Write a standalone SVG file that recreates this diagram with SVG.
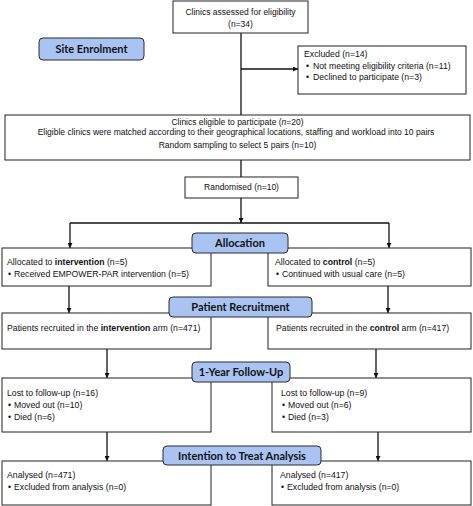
<svg xmlns="http://www.w3.org/2000/svg" width="473" height="506" viewBox="0 0 473 506">
<defs>
<style>
.box{fill:#fff;stroke:#222;stroke-width:1}
.lbl{fill:#a9c4f2;stroke:#2a2a2a;stroke-width:1}
.t{font-family:"Liberation Sans",Arial,sans-serif;font-size:8.7px;fill:#111}
.s{font-size:8.5px}
.c{text-anchor:middle}
.h{font-family:Lato,"Liberation Sans",sans-serif;font-size:11px;font-weight:bold;fill:#111;text-anchor:middle}
.b{font-weight:bold}
.ln{stroke:#111;stroke-width:1.3;fill:none}
</style>
<marker id="ar" viewBox="0 0 10 10" refX="10" refY="5" markerWidth="5" markerHeight="5" orient="auto" markerUnits="userSpaceOnUse">
<path d="M0,0 L10,5 L0,10 z" fill="#111"/>
</marker>
</defs>
<rect width="473" height="506" fill="#fff"/>

<g id="connectors">
<path class="ln" d="M241,33 V115"/>
<path class="ln" d="M241,69 H298" marker-end="url(#ar)"/>
<path class="ln" d="M241,160 V177"/>
<path class="ln" d="M241,198 V223" marker-end="url(#ar)"/>
<path class="ln" d="M70,223 H389"/>
<path class="ln" d="M70,223 V248" marker-end="url(#ar)"/>
<path class="ln" d="M389,223 V248" marker-end="url(#ar)"/>
<path class="ln" d="M69,286 V313" marker-end="url(#ar)"/>
<path class="ln" d="M388,286 V313" marker-end="url(#ar)"/>
<path class="ln" d="M107,349 V378" marker-end="url(#ar)"/>
<path class="ln" d="M376,349 V378" marker-end="url(#ar)"/>
<path class="ln" d="M107,432 V461" marker-end="url(#ar)"/>
<path class="ln" d="M378,432 V461" marker-end="url(#ar)"/>
</g>

<g id="assessed">
<rect class="box" x="173" y="1" width="135" height="32"/>
<text class="t c s" x="240.5" y="15">Clinics assessed for eligibility</text>
<text class="t c s" x="240.5" y="27">(n=34)</text>
</g>

<g id="site-enrolment">
<rect class="lbl" x="39" y="38" width="105" height="22" rx="4"/>
<text class="h" x="91.5" y="53">Site Enrolment</text>
</g>

<g id="excluded">
<rect class="box" x="298" y="46" width="168" height="48"/>
<text class="t" x="304" y="57">Excluded (n=14)</text>
<text class="t" x="306" y="69">• <tspan x="313">Not meeting eligibility criteria (n=11)</tspan></text>
<text class="t" x="306" y="80">• <tspan x="313">Declined to participate (n=3)</tspan></text>
</g>

<g id="eligible">
<rect class="box" x="5" y="115" width="465" height="45"/>
<text class="t c s" x="237.5" y="125">Clinics eligible to participate (<tspan font-style="italic">n</tspan>=20)</text>
<text class="t c s" x="236" y="135">Eligible clinics were matched according to their geographical locations, staffing and workload into 10 pairs</text>
<text class="t c s" x="237.5" y="148">Random sampling to select 5 pairs (n=10)</text>
</g>

<g id="randomised">
<rect class="box" x="185" y="177" width="113" height="21"/>
<text class="t c s" x="241.5" y="190">Randomised (n=10)</text>
</g>

<g id="alloc-int">
<rect class="box" x="2" y="248" width="209" height="38"/>
<text class="t" x="7" y="265">Allocated to <tspan class="b">intervention</tspan> (n=5)</text>
<text class="t" x="8" y="277">• <tspan x="14">Received EMPOWER-PAR intervention (n=5)</tspan></text>
</g>

<g id="alloc-ctrl">
<rect class="box" x="268" y="248" width="203" height="38"/>
<text class="t" x="275" y="265">Allocated to <tspan class="b">control</tspan> (n=5)</text>
<text class="t" x="276" y="277">• <tspan x="282">Continued with usual care (n=5)</tspan></text>
</g>

<g id="allocation">
<rect class="lbl" x="192" y="233" width="96" height="20" rx="4"/>
<text class="h" x="240" y="247">Allocation</text>
</g>

<g id="recruit-int">
<rect class="box" x="2" y="313" width="209" height="36"/>
<text class="t" x="7" y="331">Patients recruited in the <tspan class="b">intervention</tspan> arm (n=471)</text>
</g>

<g id="recruit-ctrl">
<rect class="box" x="268" y="313" width="203" height="36"/>
<text class="t" x="276" y="331">Patients recruited in the <tspan class="b">control</tspan> arm (n=417)</text>
</g>

<g id="patient-recruitment">
<rect class="lbl" x="169" y="297" width="143" height="20" rx="4"/>
<text class="h" x="240.5" y="311">Patient Recruitment</text>
</g>

<g id="lost-int">
<rect class="box" x="2" y="378" width="209" height="54"/>
<text class="t" x="7" y="396">Lost to follow-up (n=16)</text>
<text class="t" x="8" y="408">• <tspan x="14">Moved out (n=10)</tspan></text>
<text class="t" x="8" y="420">• <tspan x="14">Died (n=6)</tspan></text>
</g>

<g id="lost-ctrl">
<rect class="box" x="272" y="378" width="199" height="54"/>
<text class="t" x="281" y="396">Lost to follow-up (n=9)</text>
<text class="t" x="282" y="408">• <tspan x="288">Moved out (n=6)</tspan></text>
<text class="t" x="282" y="420">• <tspan x="288">Died (n=3)</tspan></text>
</g>

<g id="follow-up">
<rect class="lbl" x="192" y="362" width="98" height="20" rx="4"/>
<text class="h" x="241" y="376">1-Year Follow-Up</text>
</g>

<g id="analysed-int">
<rect class="box" x="2" y="461" width="209" height="44"/>
<text class="t" x="7" y="478">Analysed (n=471)</text>
<text class="t" x="8" y="490">• <tspan x="14">Excluded from analysis (n=0)</tspan></text>
</g>

<g id="analysed-ctrl">
<rect class="box" x="272" y="461" width="199" height="44"/>
<text class="t" x="280" y="478">Analysed (n=417)</text>
<text class="t" x="281" y="490">• <tspan x="287">Excluded from analysis (n=0)</tspan></text>
</g>

<g id="itt">
<rect class="lbl" x="163" y="446" width="158" height="19" rx="4"/>
<text class="h" x="242" y="460">Intention to Treat Analysis</text>
</g>
</svg>
